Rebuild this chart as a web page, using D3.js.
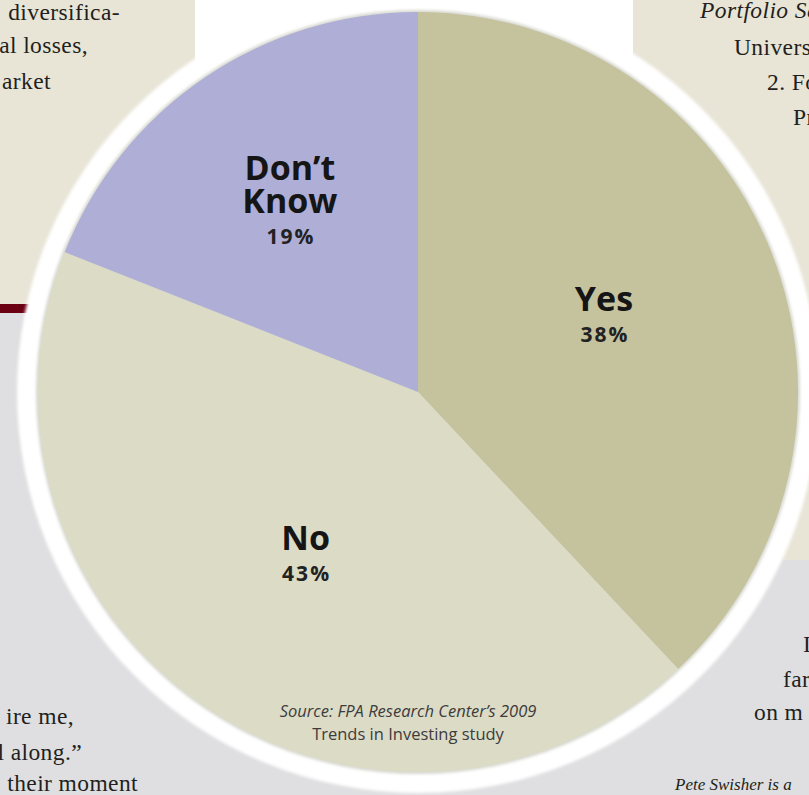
<!DOCTYPE html>
<html>
<head>
<meta charset="utf-8">
<script src="https://cdn.jsdelivr.net/npm/d3@7"></script>
<style>
  html, body { margin: 0; padding: 0; background: #dfdfe1; overflow: hidden; }
  svg { display: block; }
  .page-text { font-family: 'Liberation Serif', 'DejaVu Serif', serif; font-size: 23.5px; letter-spacing: 0.4px; fill: #231f20; }
  .page-text.italic { font-style: italic; }
  .page-text.small { font-size: 17px; letter-spacing: 0; }
  .slice-name { font-family: 'Open Sans', sans-serif; font-weight: 700; font-size: 34px; fill: #151515; }
  .slice-pct { font-family: 'Open Sans', sans-serif; font-weight: 700; font-size: 21px; fill: #222; letter-spacing: 2px; }
  .source { font-family: 'Open Sans', sans-serif; font-size: 16.5px; fill: #3c3c3c; }
</style>
</head>
<body>
<div id="chart"></div>
<script>
  'use strict';

  // Survey answers, share of respondents in percent
  var categories = [ 'Yes', 'No', 'Don\u2019t Know' ];
  var shares = [ 38, 43, 19 ];

  var sourceLines = [ 'Source: FPA Research Center\u2019s 2009', 'Trends in Investing study' ];

  var width = 809;
  var height = 795;

  // Pivot point and radius of the pie
  var cx = 418;
  var cy = 392;
  var r = 380;

  var color = d3.scaleOrdinal()
    .domain( categories )
    .range( [ '#c5c29e', '#dcdbc6', '#aeaed6' ] );

  var svg = d3.select( '#chart' ).append( 'svg' )
    .attr( 'width', width )
    .attr( 'height', height );

  //
  // PAGE BACKGROUND (magazine layout around the chart)
  //

  var page = svg.append( 'g' ).attr( 'class', 'page' );

  page.append( 'rect' )
    .attr( 'x', 0 ).attr( 'y', 0 )
    .attr( 'width', width ).attr( 'height', height )
    .attr( 'fill', '#dfdfe1' );

  page.append( 'rect' )
    .attr( 'x', 195 ).attr( 'y', 0 )
    .attr( 'width', 438 ).attr( 'height', 320 )
    .attr( 'fill', '#ffffff' );

  // Left and right sidebar panels
  page.append( 'rect' )
    .attr( 'x', 0 ).attr( 'y', 0 )
    .attr( 'width', 195 ).attr( 'height', 304 )
    .attr( 'fill', '#e8e5d7' );

  page.append( 'rect' )
    .attr( 'x', 0 ).attr( 'y', 304 )
    .attr( 'width', 60 ).attr( 'height', 9 )
    .attr( 'fill', '#6b0012' );

  page.append( 'rect' )
    .attr( 'x', 633 ).attr( 'y', 0 )
    .attr( 'width', width - 633 ).attr( 'height', 560 )
    .attr( 'fill', '#e8e5d7' );

  // Fragments of the article text that peek out around the pie
  var pageText = [
    { t: 'diversifica-', x: 120, y: 20, anchor: 'end' },
    { t: 'al losses,', x: 88, y: 53, anchor: 'end' },
    { t: 'arket', x: 51, y: 89, anchor: 'end' },
    { t: 'Portfolio Se', x: 700, y: 18, anchor: 'start', cls: 'italic' },
    { t: 'Univers', x: 734, y: 55, anchor: 'start' },
    { t: '2. Fo', x: 767, y: 90, anchor: 'start' },
    { t: 'Pr', x: 793, y: 125, anchor: 'start' },
    { t: 'ire me,', x: 74, y: 724, anchor: 'end' },
    { t: 'all along.\u201d', x: 82, y: 760, anchor: 'end' },
    { t: 'their moment', x: 138, y: 791, anchor: 'end' },
    { t: 'I', x: 803, y: 652, anchor: 'start' },
    { t: 'far', x: 783, y: 687, anchor: 'start' },
    { t: 'on m', x: 754, y: 720, anchor: 'start' },
    { t: 'Pete Swisher is a', x: 675, y: 790, anchor: 'start', cls: 'italic small' }
  ];

  page.selectAll( 'text' )
    .data( pageText )
    .enter().append( 'text' )
    .attr( 'class', function( d ) {
      return 'page-text ' + ( d.cls || '' );
    } )
    .attr( 'x', function( d ) { return d.x; } )
    .attr( 'y', function( d ) { return d.y; } )
    .style( 'text-anchor', function( d ) { return d.anchor; } )
    .text( function( d ) { return d.t; } );

  //
  // PIE
  //

  var defs = svg.append( 'defs' );
  defs.append( 'filter' )
    .attr( 'id', 'soft' )
    .append( 'feGaussianBlur' )
    .attr( 'stdDeviation', 1.5 );

  var origin = svg.append( 'g' )
    .attr( 'class', 'origin' )
    .attr( 'transform', 'translate(' + cx + ',' + cy + ')' );

  // White rim around the pie
  origin.append( 'circle' )
    .attr( 'r', r + 21 )
    .attr( 'fill', '#ffffff' )
    .attr( 'filter', 'url(#soft)' );

  origin.append( 'circle' )
    .attr( 'r', r + 2 )
    .attr( 'fill', '#d8d8d0' )
    .attr( 'filter', 'url(#soft)' );

  var data = categories.map( function( c, i ) {
    return { label: c, value: shares[ i ] };
  } );

  var pie = d3.pie()
    .sort( null )
    .value( function( d ) { return d.value; } );

  var arc = d3.arc()
    .innerRadius( 0 )
    .outerRadius( r );

  var arcs = pie( data );

  origin.selectAll( 'path.slice' )
    .data( arcs )
    .enter().append( 'path' )
    .attr( 'class', 'slice' )
    .attr( 'd', arc )
    .attr( 'fill', function( d ) { return color( d.data.label ); } );

  // Small slices get their label pushed further out
  function labelRadius( d ) {
    return ( d.endAngle - d.startAngle ) < Math.PI / 2 ? 228 : 200;
  }

  var capHeight = 25;
  var lineHeight = 33;
  var pctGap = 31;

  var labels = origin.selectAll( 'g.label' )
    .data( arcs )
    .enter().append( 'g' )
    .attr( 'class', 'label' )
    .attr( 'transform', function( d ) {
      var lr = labelRadius( d );
      var c = d3.arc().innerRadius( lr ).outerRadius( lr ).centroid( d );
      var lines = d.data.label.split( ' ' ).length;
      var blockHeight = capHeight + ( lines - 1 ) * lineHeight + pctGap;
      return 'translate(' + c[ 0 ] + ',' + ( c[ 1 ] - blockHeight / 2 + capHeight - 4 ) + ')';
    } );

  labels.each( function( d ) {
    var g = d3.select( this );
    var lines = d.data.label.split( ' ' );
    lines.forEach( function( line, i ) {
      g.append( 'text' )
        .attr( 'class', 'slice-name' )
        .attr( 'y', i * lineHeight )
        .style( 'text-anchor', 'middle' )
        .text( line );
    } );
    g.append( 'text' )
      .attr( 'class', 'slice-pct' )
      .attr( 'x', 1 )
      .attr( 'y', ( lines.length - 1 ) * lineHeight + pctGap )
      .style( 'text-anchor', 'middle' )
      .text( d.data.value + '%' );
  } );

  // Source note at the bottom of the pie
  origin.selectAll( 'text.source' )
    .data( sourceLines )
    .enter().append( 'text' )
    .attr( 'class', 'source' )
    .attr( 'x', -10 )
    .attr( 'y', function( d, i ) { return 325 + i * 23; } )
    .style( 'text-anchor', 'middle' )
    .style( 'font-style', function( d, i ) { return i === 0 ? 'italic' : null; } )
    .text( function( d ) { return d; } );
</script>
</body>
</html>
